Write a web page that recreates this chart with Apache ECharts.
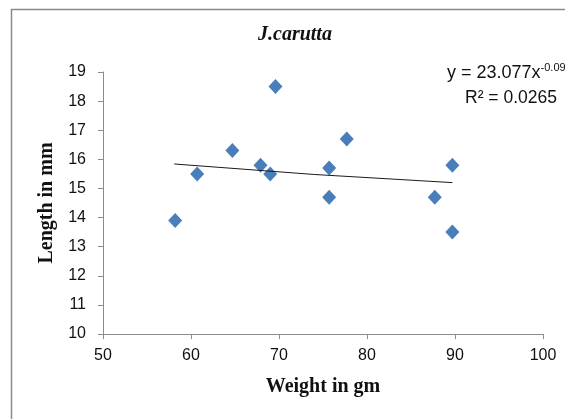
<!DOCTYPE html>
<html>
<head>
<meta charset="utf-8">
<script src="https://cdn.jsdelivr.net/npm/echarts@6/dist/echarts.min.js"></script>
<style>
  html, body { margin: 0; padding: 0; background: #fff; }
  #chart { width: 565px; height: 419px; }
</style>
</head>
<body>
<div id="chart"></div>
<script>
// weight (gm) vs length (mm)
var weights = [58.2, 60.7, 64.7, 67.9, 69.0, 69.6, 75.7, 75.7, 77.7, 87.7, 89.7, 89.7];
var lengths = [13.9, 15.5, 16.3, 15.8, 15.5, 18.5, 15.7, 14.7, 16.7, 14.7, 15.8, 13.5];
// power trendline as drawn
var trendX = [58.1, 74, 89.7];
var trendY = [15.84, 15.48, 15.2];
var xTicks = [50, 60, 70, 80, 90, 100];
var yTicks = [10, 11, 12, 13, 14, 15, 16, 17, 18, 19];

var points = weights.map(function (w, i) { return [w, lengths[i]]; });
var trend = trendX.map(function (x, i) { return [x, trendY[i]]; });

var chart = echarts.init(document.getElementById('chart'));
var axisColor = '#8c8c8c';
var tickFont = { color: '#111', fontSize: 16, fontFamily: 'Liberation Sans' };
var nameFont = { color: '#111', fontSize: 20, fontWeight: 'bold', fontFamily: 'Liberation Serif' };

chart.setOption({
    animation: false,
    grid: { left: 103, right: 22, top: 72, bottom: 85 },
    xAxis: {
        type: 'value',
        min: xTicks[0],
        max: xTicks[xTicks.length - 1],
        interval: 10,
        name: 'Weight in gm',
        nameLocation: 'middle',
        nameGap: 43,
        nameTextStyle: nameFont,
        axisLine: { show: true, lineStyle: { color: axisColor } },
        axisTick: { show: true, length: 5, lineStyle: { color: axisColor } },
        axisLabel: Object.assign({ margin: 14 }, tickFont),
        splitLine: { show: false }
    },
    yAxis: {
        type: 'value',
        min: yTicks[0],
        max: yTicks[yTicks.length - 1],
        interval: 1,
        name: 'Length in mm',
        nameLocation: 'middle',
        nameGap: 44,
        nameTextStyle: nameFont,
        axisLine: { show: true, lineStyle: { color: axisColor } },
        axisTick: { show: true, length: 5, lineStyle: { color: axisColor } },
        axisLabel: Object.assign({ margin: 17 }, tickFont),
        splitLine: { show: false }
    },
    graphic: [
        {
            type: 'rect', silent: true, z: -1,
            shape: { x: 11.5, y: 9.5, width: 700, height: 600 },
            style: { fill: 'none', stroke: '#8a8a8a', lineWidth: 1.5 }
        },
        {
            type: 'text', left: 258, top: 25,
            style: {
                text: 'J.carutta',
                font: 'italic bold 20px "Liberation Serif"', fill: '#111'
            }
        },
        {
            type: 'text', left: 447, top: 62,
            style: {
                text: '{a|y = 23.077x}{s|-0.09}',
                rich: {
                    a: { fontSize: 18, fontFamily: 'Liberation Sans', fill: '#111', verticalAlign: 'bottom' },
                    s: { fontSize: 11, fontFamily: 'Liberation Sans', fill: '#111', verticalAlign: 'top', padding: [0, 0, 9, 0] }
                }
            }
        },
        {
            type: 'text', left: 465, top: 89,
            style: { text: 'R² = 0.0265', font: '17.5px "Liberation Sans"', fill: '#111' }
        }
    ],
    series: [
        {
            type: 'line',
            data: trend,
            showSymbol: false,
            smooth: false,
            lineStyle: { color: '#1a1a1a', width: 1 },
            z: 3
        },
        {
            type: 'scatter',
            data: points,
            symbol: 'diamond',
            symbolSize: [14, 15],
            itemStyle: { color: '#4a7ebb', opacity: 1 },
            z: 2
        }
    ]
});
</script>
</body>
</html>
